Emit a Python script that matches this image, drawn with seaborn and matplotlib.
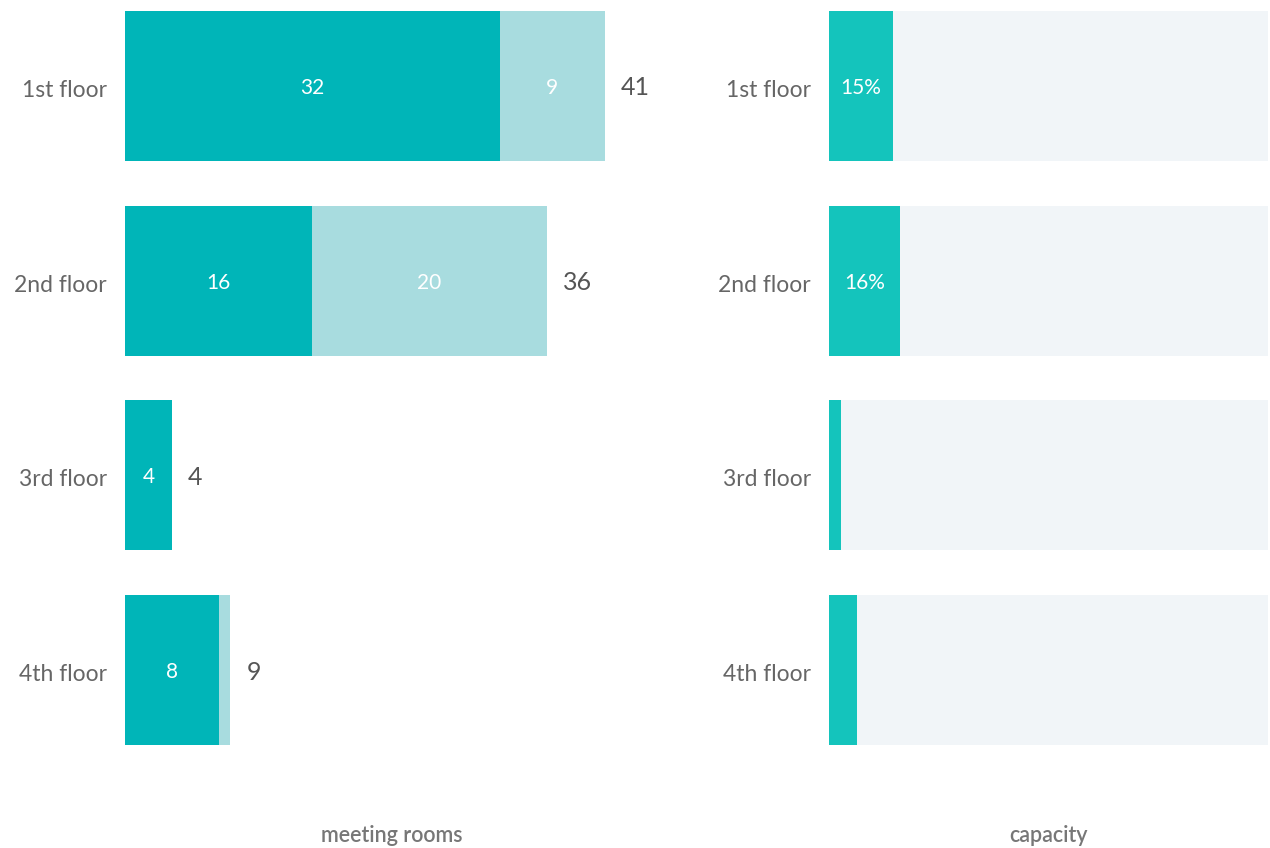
import matplotlib
matplotlib.use("Agg")
import matplotlib.pyplot as plt
import matplotlib.transforms as mtransforms
import seaborn as sns
import pandas as pd

floors = ["1st floor", "2nd floor", "3rd floor", "4th floor"]
booked = [32, 16, 4, 8]
available = [9, 20, 0, 1]
capacity = [14.6, 16.2, 2.7, 6.4]

totals = [b + a for b, a in zip(booked, available)]

sns.set_theme(style="white")
plt.rcParams['font.family'] = ['Lato', 'DejaVu Sans']

DARK = "#00B5B8"
LIGHT = "#A8DCDF"
CAP = "#14C4BC"
TRACK = "#F1F5F8"
GRAY = "#666666"

df = pd.DataFrame({"floor": floors, "booked": booked, "available": available,
                   "total": totals, "capacity": capacity,
                   "track": [100] * len(floors)})

fig = plt.figure(figsize=(12.7, 8.48), dpi=100)
axL = fig.add_axes([125 / 1270, 1 - 745 / 848, 534 / 1270, 734 / 848])
axR = fig.add_axes([829 / 1270, 1 - 745 / 848, 439 / 1270, 734 / 848])

W = 150 / 195

sns.barplot(data=df, y="floor", x="total", color=LIGHT, orient="h", width=W,
            ax=axL, saturation=1, linewidth=0)
sns.barplot(data=df, y="floor", x="booked", color=DARK, orient="h", width=W,
            ax=axL, saturation=1, linewidth=0)

sns.barplot(data=df, y="floor", x="track", color=TRACK, orient="h", width=W,
            ax=axR, saturation=1, linewidth=0)
sns.barplot(data=df, y="floor", x="capacity", color=CAP, orient="h", width=W,
            ax=axR, saturation=1, linewidth=0)

shift = mtransforms.ScaledTranslation(0, -2.5 / 100, fig.dpi_scale_trans)

axL.set_xlim(0, 45.6)
axR.set_xlim(0, 100)
for ax in (axL, axR):
    ax.set_ylim(3 + W / 2, -W / 2)
    ax.set_xlabel("")
    ax.set_ylabel("")
    ax.set_xticks([])
    for s in ax.spines.values():
        s.set_visible(False)
    ax.tick_params(axis="y", length=0, pad=13, labelsize=16.5, labelcolor=GRAY)
    for lab in ax.get_yticklabels():
        lab.set_transform(lab.get_transform() + shift)

# labels on meeting rooms
for i in range(len(floors)):
    b, a, t = booked[i], available[i], totals[i]
    axL.annotate(str(b), xy=(b / 2, i), xytext=(0, -2), textcoords="offset pixels",
                 ha="center", va="center", color="white", fontsize=15)
    if a >= 5:
        axL.annotate(str(a), xy=(b + a / 2, i), xytext=(0, -2), textcoords="offset pixels",
                     ha="center", va="center", color="white", fontsize=15)
    axL.annotate(str(t), xy=(t, i), xytext=(16, -2), textcoords="offset pixels",
                 ha="left", va="center", color="#555555", fontsize=18)

for i in range(len(floors)):
    c = capacity[i]
    if c >= 10:
        axR.annotate(f"{round(c)}%", xy=(c / 2, i), xytext=(0, -2), textcoords="offset pixels",
                     ha="center", va="center", color="white", fontsize=15)

fig.text(392 / 1270, 1 - 836 / 848, "meeting rooms", ha="center", va="center",
         color="#777777", fontsize=15.5, fontweight="semibold")
fig.text(1048 / 1270, 1 - 836 / 848, "capacity", ha="center", va="center",
         color="#777777", fontsize=15.5, fontweight="semibold")

fig.savefig("out.png", dpi=100)
